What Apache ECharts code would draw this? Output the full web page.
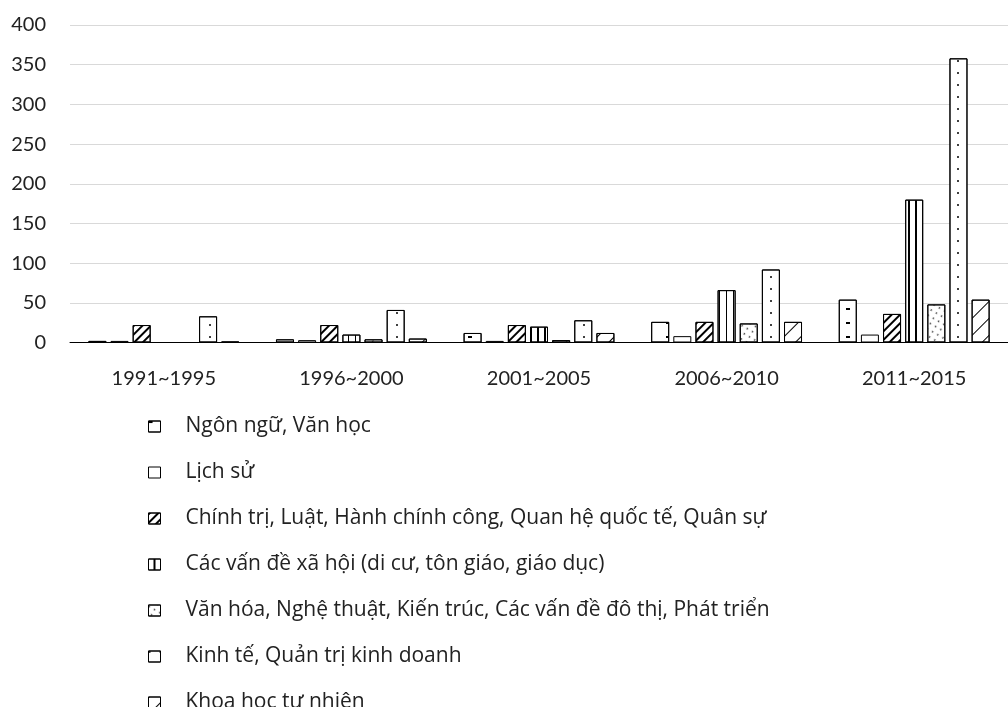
<!DOCTYPE html>
<html><head><meta charset="utf-8">
<script src="https://cdn.jsdelivr.net/npm/echarts@6/dist/echarts.min.js"></script>
<style>html,body{margin:0;padding:0;background:#fff}#c{width:1008px;height:707px}</style>
</head><body><div id="c"></div>
<script>
const categories = ['1991~1995','1996~2000','2001~2005','2006~2010','2011~2015'];
const seriesNames = [
  'Ngôn ngữ, Văn học',
  'Lịch sử',
  'Chính trị, Luật, Hành chính công, Quan hệ quốc tế, Quân sự',
  'Các vấn đề xã hội (di cư, tôn giáo, giáo dục)',
  'Văn hóa, Nghệ thuật, Kiến trúc, Các vấn đề đô thị, Phát triển',
  'Kinh tế, Quản trị kinh doanh',
  'Khoa học tự nhiên'
];
const ngonNgu   = [2, 4, 12, 26, 54];
const lichSu    = [2, 3, 2, 8, 10];
const chinhTri  = [22, 22, 22, 26, 36];
const xaHoi     = [0, 10, 20, 66, 180];
const vanHoa    = [0, 4, 3, 24, 48];
const kinhTe    = [33, 41, 28, 92, 358];
const khoaHoc   = [1, 5, 12, 26, 54];
const yTicks = [0, 50, 100, 150, 200, 250, 300, 350, 400];

const allData = [ngonNgu, lichSu, chinhTri, xaHoi, vanHoa, kinhTe, khoaHoc];
const decals = [
  {symbol:'rect', color:'#000', dashArrayX:[[4,14]], dashArrayY:[2,12], symbolSize:1},
  null,
  {symbol:'rect', color:'#000', dashArrayX:[[1,0]], dashArrayY:[1.5,4], rotation:-Math.PI/4, symbolSize:1},
  {symbol:'rect', color:'#000', dashArrayX:[[1,0]], dashArrayY:[2,4.5], rotation:Math.PI/2, symbolSize:1},
  {symbol:'circle', color:'#000', dashArrayX:[[3,3]], dashArrayY:[2,4], rotation:Math.PI/6, symbolSize:0.8},
  {symbol:'circle', color:'#000', dashArrayX:[[2,9]], dashArrayY:[2,10], symbolSize:1},
  {symbol:'rect', color:'#000', dashArrayX:[[1,0]], dashArrayY:[1,11], rotation:-Math.PI/4, symbolSize:1}
];
const FONT = 'Lato';
const LFONT = 'Open Sans';
const series = seriesNames.map((n, i) => {
  const it = {color:'#fff', borderColor:'#000', borderWidth:1};
  if (decals[i]) it.decal = decals[i];
  return {name:n, type:'bar', data:allData[i], barWidth:18, barGap:'23%', itemStyle:it};
});
const chart = echarts.init(document.getElementById('c'), null, {renderer:'canvas'});
chart.setOption({
  animation:false,
  backgroundColor:'#fff',
  grid:{left:70, right:-11, top:25, bottom:364.5, containLabel:false},
  xAxis:{type:'category', data:categories,
    axisTick:{show:false}, axisLine:{lineStyle:{color:'#000', width:1}},
    axisLabel:{color:'#222', fontFamily:FONT, fontSize:20, margin:26}},
  yAxis:{type:'value', min:yTicks[0], max:yTicks[yTicks.length-1], interval:50,
    axisLine:{show:false}, axisTick:{show:false},
    splitLine:{lineStyle:{color:'#d9d9d9', width:1}},
    axisLabel:{color:'#222', fontFamily:FONT, fontSize:20, margin:24}},
  legend:{orient:'vertical', left:143, top:411, height:400, icon:'rect', itemWidth:12, itemHeight:11,
    itemGap:25, itemStyle:{borderColor:'#000', borderWidth:1},
    textStyle:{color:'#222', fontFamily:LFONT, fontSize:21, lineHeight:21, padding:[0,0,0,20]},
    data:seriesNames},
  series:series
});
</script></body></html>
